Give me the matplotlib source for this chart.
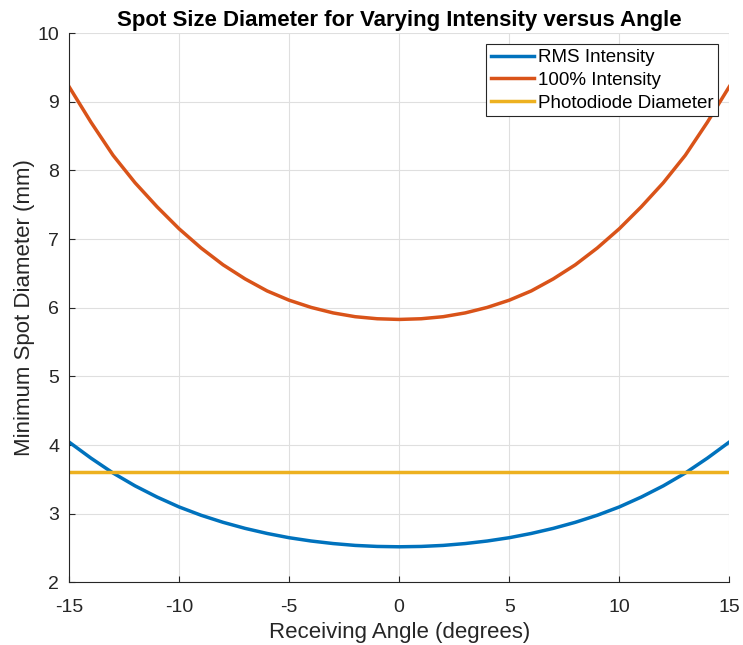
import matplotlib.pyplot as plt

plt.rcParams['font.family'] = ['Liberation Sans', 'DejaVu Sans']
plt.rcParams['axes.unicode_minus'] = False

angle = list(range(-15, 16))
rms_half = [2.52, 2.525, 2.54, 2.567, 2.604, 2.652, 2.714, 2.788, 2.876, 2.979,
            3.10, 3.244, 3.407, 3.594, 3.81, 4.045]
full_half = [5.83, 5.84, 5.87, 5.925, 6.005, 6.11, 6.245, 6.42, 6.625, 6.87,
             7.15, 7.47, 7.82, 8.22, 8.70, 9.22]
rms = rms_half[::-1] + rms_half[1:]
full = full_half[::-1] + full_half[1:]
photodiode = [3.61] * len(angle)

fig = plt.figure(figsize=(7.43, 6.45), dpi=100)
ax = fig.add_axes([0.0929, 0.0969, 0.8887, 0.8519])

ax.plot(angle, rms, color='#0072BD', lw=2.5, label='RMS Intensity')
ax.plot(angle, full, color='#D95319', lw=2.5, label='100% Intensity')
ax.plot(angle, photodiode, color='#EDB120', lw=2.5, label='Photodiode Diameter')

ax.set_xlim(-15, 15)
ax.set_ylim(2, 10)
ax.set_xticks(range(-15, 16, 5))
ax.set_yticks(range(2, 11))
ax.grid(True, color='#DFDFDF', lw=0.8)
ax.set_axisbelow(True)
for s in ['top', 'right']:
    ax.spines[s].set_visible(False)
for s in ['left', 'bottom']:
    ax.spines[s].set_color('#262626')
ax.tick_params(direction='in', length=4, labelsize=14, colors='#262626')
ax.tick_params(axis='x', pad=12)
ax.tick_params(axis='y', pad=7)

ax.set_title('Spot Size Diameter for Varying Intensity versus Angle',
             fontsize=16, fontweight='bold', pad=5)
ax.set_xlabel('Receiving Angle (degrees)', fontsize=16, color='#262626', labelpad=4)
ax.set_ylabel('Minimum Spot Diameter (mm)', fontsize=16, color='#262626', labelpad=2)

leg = ax.legend(loc='upper right', fontsize=13.5, fancybox=False, framealpha=1,
                edgecolor='#262626', borderpad=0.25, labelspacing=0.3,
                handlelength=2.3, handletextpad=0.2, borderaxespad=0.6)
leg.get_frame().set_linewidth(0.8)

fig.savefig('out.png', dpi=100)
